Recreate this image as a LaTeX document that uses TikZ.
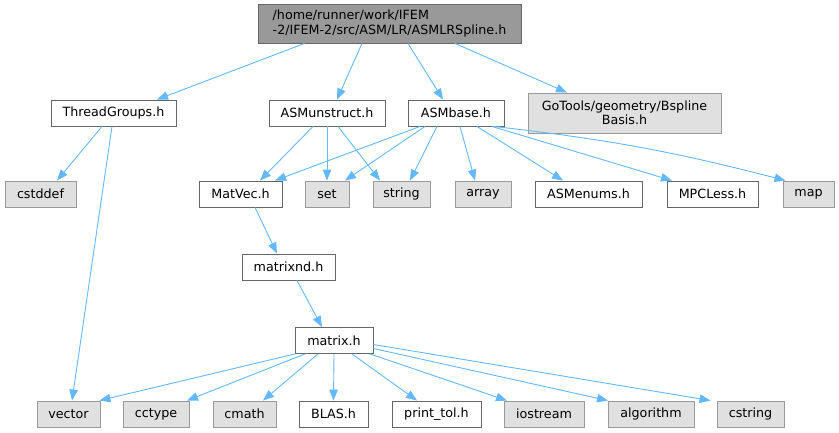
\documentclass[tikz,border=0pt]{standalone}
\usepackage{fontspec}
\setmainfont{DejaVu Sans}
\usetikzlibrary{arrows.meta}
\definecolor{edgeblue}{HTML}{63B8FF}
\definecolor{grayfill}{HTML}{E0E0E0}
\definecolor{grayline}{HTML}{999999}
\definecolor{darkline}{HTML}{666666}
\definecolor{rootfill}{HTML}{999999}
\tikzset{
  base/.style={draw, line width=0.9pt, inner sep=0pt, minimum height=26pt,
    font=\fontsize{12.7}{14.5}\selectfont, text=black},
  filebox/.style={base, draw=darkline, fill=white},
  sysbox/.style={base, draw=grayline, fill=grayfill},
  rootbox/.style={base, draw=darkline, fill=rootfill},
  edge/.style={draw=edgeblue, line width=0.9pt, -{Triangle[length=11pt,width=8.5pt]}, color=edgeblue}
}
\begin{document}
\begin{tikzpicture}[x=1pt,y=-1pt]
\useasboundingbox (0,0) rectangle (839,432);
% nodes
\node[rootbox, minimum width=263pt, minimum height=39pt, align=left] (root) at (389.5,23.5)
  {/home/runner/work/IFEM\\-2/IFEM-2/src/ASM/LR/ASMLRSpline.h};
\node[filebox, minimum width=125pt] (tg) at (113.5,113) {ThreadGroups.h};
\node[filebox, minimum width=116pt] (asmu) at (327,113) {ASMunstruct.h};
\node[filebox, minimum width=96pt] (asmb) at (456,113) {ASMbase.h};
\node[sysbox, minimum width=193pt, minimum height=40pt, align=center] (gotools) at (624.5,113)
  {GoTools/geometry/Bspline\\Basis.h};
\node[sysbox, minimum width=71pt] (cstddef) at (40.5,194) {cstddef};
\node[filebox, minimum width=83pt] (matvec) at (240.5,194) {MatVec.h};
\node[sysbox, minimum width=44pt] (set) at (327,194) {set};
\node[sysbox, minimum width=57pt] (string) at (401.5,194) {string};
\node[sysbox, minimum width=56pt] (array) at (483,194) {array};
\node[filebox, minimum width=107pt] (asme) at (588.5,194) {ASMenums.h};
\node[filebox, minimum width=91pt] (mpc) at (712.5,194) {MPCLess.h};
\node[sysbox, minimum width=51pt] (map) at (808.5,194) {map};
\node[filebox, minimum width=93pt] (matrixnd) at (288.5,267) {matrixnd.h};
\node[filebox, minimum width=78pt] (matrix) at (334,340.5) {matrix.h};
\node[sysbox, minimum width=63pt] (vector) at (68.5,414) {vector};
\node[sysbox, minimum width=66pt] (cctype) at (156,414) {cctype};
\node[sysbox, minimum width=63pt] (cmath) at (244.5,414) {cmath};
\node[filebox, minimum width=69pt] (blas) at (333.5,414) {BLAS.h};
\node[filebox, minimum width=89pt] (printtol) at (436.5,414) {print\_tol.h};
\node[sysbox, minimum width=80pt] (iostream) at (544,414) {iostream};
\node[sysbox, minimum width=86pt] (algorithm) at (651,414) {algorithm};
\node[sysbox, minimum width=67pt] (cstring) at (750.5,414) {cstring};
% edges
\draw[edge] ([xshift=-85pt]root.south) -- ([xshift=43.5pt]tg.north);
\draw[edge] ([xshift=-27.5pt]root.south) -- ([xshift=10pt]asmu.north);
\draw[edge] ([xshift=18.5pt]root.south) -- ([xshift=-13pt]asmb.north);
\draw[edge] ([xshift=65.5pt]root.south) -- ([xshift=-57.5pt]gotools.north);
\draw[edge] ([xshift=-11.5pt]tg.south) -- ([xshift=16.5pt]cstddef.north);
\draw[edge] ([xshift=-1.5pt]tg.south) -- ([xshift=3.5pt]vector.north);
\draw[edge] ([xshift=-14pt]asmu.south) -- ([xshift=19.5pt]matvec.north);
\draw[edge] (asmu.south) -- (set.north);
\draw[edge] ([xshift=11pt]asmu.south) -- ([xshift=-21.5pt]string.north);
\draw[edge] ([xshift=-36pt]asmb.south) -- ([xshift=34.5pt]matvec.north);
\draw[edge] ([xshift=-31pt]asmb.south) -- ([xshift=18pt]set.north);
\draw[edge] ([xshift=-19pt]asmb.south) -- ([xshift=8.5pt]string.north);
\draw[edge] ([xshift=4pt]asmb.south) -- ([xshift=-8pt]array.north);
\draw[edge] ([xshift=21pt]asmb.south) -- ([xshift=-25.5pt]asme.north);
\draw[edge] ([xshift=36pt]asmb.south) -- ([xshift=-40.5pt]mpc.north);
\draw[edge] ([xshift=38pt]asmb.south) to[bend left=4] ([xshift=-23pt]map.north);
\draw[edge] ([xshift=14.5pt]matvec.south) -- ([xshift=-11.5pt]matrixnd.north);
\draw[edge] ([xshift=8.5pt]matrixnd.south) -- ([xshift=-12pt]matrix.north);
\draw[edge] ([xshift=-39pt]matrix.south) -- ([xshift=31pt]vector.north);
\draw[edge] ([xshift=-29pt]matrix.south) -- ([xshift=31pt]cctype.north);
\draw[edge] ([xshift=-16pt]matrix.south) -- ([xshift=18.5pt]cmath.north);
\draw[edge] (matrix.south) -- (blas.north);
\draw[edge] ([xshift=18pt]matrix.south) -- ([xshift=-19.5pt]printtol.north);
\draw[edge] ([xshift=36pt]matrix.south) -- ([xshift=-37pt]iostream.north);
\draw[edge] ([yshift=-8pt]matrix.east) -- ([xshift=-43pt]algorithm.north);
\draw[edge] ([yshift=-4pt]matrix.east) -- ([xshift=-40pt]cstring.north);
\end{tikzpicture}
\end{document}
